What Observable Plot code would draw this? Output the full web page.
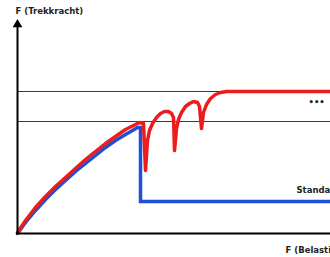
<!DOCTYPE html>
<html>
<head>
<meta charset="utf-8">
<script src="https://cdn.jsdelivr.net/npm/d3@7"></script>
<script src="https://cdn.jsdelivr.net/npm/@observablehq/plot@0.6"></script>
<style>
  html, body { margin: 0; padding: 0; background: #fff; overflow: hidden; }
  svg { display: block; overflow: hidden; }
</style>
</head>
<body>
<div id="chart"></div>
<script>
// Red curve (new design): belasting (x) vs trekkracht (y)
const redX = [0, 8, 18, 28, 38, 48, 58, 68, 78, 88, 98, 108, 116, 122, 126, 128, 130, 132, 135, 139, 143, 147, 151, 154, 156, 157, 159, 161, 164, 168, 172, 176, 180, 182, 184, 186, 189, 193, 198, 203, 209, 313];
const redY = [1, 13, 26, 37, 47, 56, 65, 74, 82, 90, 97, 104, 108, 111, 110, 63, 93, 103, 110, 116, 120, 122, 122, 120, 116, 83, 105, 114, 121, 127, 130, 132, 131, 127, 105, 121, 129, 135, 139, 141, 142, 142];
// Blue curve (standaard)
const blueX = [0, 8, 18, 28, 38, 48, 58, 68, 78, 88, 98, 108, 115, 120, 123, 123, 313];
const blueY = [0, 11, 23, 34, 44, 53, 62, 70, 78, 86, 93, 99, 103, 106, 106, 32, 32];
// Horizontal reference levels
const levels = [142, 112];
// Labels
const labelText = ["F (Trekkracht)", "Standaard", "F (Belasting)", "•••"];
const labelX = [-2, 279, 268, 291];
const labelY = [222, 43, -17, 131];

const red = redX.map((x, i) => ({x, y: redY[i]}));
const blue = blueX.map((x, i) => ({x, y: blueY[i]}));
const labels = labelText.map((t, i) => ({t, x: labelX[i], y: labelY[i]}));

const chart = Plot.plot({
  width: 330,
  height: 257,
  marginLeft: 17,
  marginRight: 0,
  marginTop: 0,
  marginBottom: 24,
  x: {domain: [0, 313], axis: null},
  y: {domain: [0, 233], axis: null},
  style: {fontFamily: "DejaVu Sans", background: "#fff"},
  marks: [
    Plot.ruleY(levels, {x1: 0, x2: 313, stroke: "#3a3a3a", strokeWidth: 1.2}),
    Plot.line(blue, {x: "x", y: "y", stroke: "#1e4fd6", strokeWidth: 3.5, strokeLinejoin: "miter", strokeMiterlimit: 10}),
    Plot.line(red, {x: "x", y: "y", stroke: "#ec1c1c", strokeWidth: 3.5, strokeLinejoin: "round"}),
    Plot.ruleX([0], {y1: 0, y2: 207, stroke: "#000", strokeWidth: 2}),
    Plot.dot([{x: 0, y: 209}], {x: "x", y: "y", symbol: "triangle", r: 3.6, fill: "#000", stroke: "none"}),
    Plot.ruleY([0], {x1: -1, x2: 313, stroke: "#000", strokeWidth: 2.2}),
    Plot.text(labels, {x: "x", y: "y", text: "t", textAnchor: "start", lineAnchor: "middle", fontSize: 8.5, fontWeight: "bold", fill: "#222"})
  ]
});
document.getElementById("chart").appendChild(chart);
</script>
</body>
</html>
